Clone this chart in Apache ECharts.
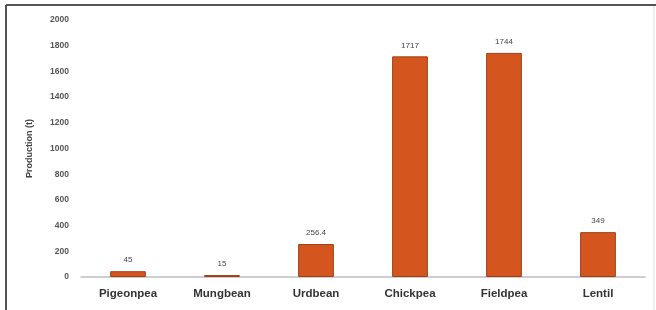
<!DOCTYPE html>
<html>
<head>
<meta charset="utf-8">
<script src="https://cdn.jsdelivr.net/npm/echarts@6/dist/echarts.min.js"></script>
<style>
  html, body { margin: 0; padding: 0; background: #fff; }
  #container { width: 656px; height: 310px; }
</style>
</head>
<body>
<div id="container"></div>
<script>
var dom = document.getElementById('container');
var myChart = echarts.init(dom, null, { renderer: 'canvas' });

// crops and production
const crops = ['Pigeonpea', 'Mungbean', 'Urdbean', 'Chickpea', 'Fieldpea', 'Lentil'];
const production = [45, 15, 256.4, 1717, 1744, 349];
const yTicks = [0, 200, 400, 600, 800, 1000, 1200, 1400, 1600, 1800, 2000];

const barColor = '#d4561e';
const barBorder = '#9e3f16';

var option = {
  animation: false,
  backgroundColor: '#fff',
  graphic: [
    // frame around the picture
    { type: 'line', shape: { x1: 6, y1: 5, x2: 656, y2: 5 }, style: { stroke: '#555', lineWidth: 2 } },
    { type: 'line', shape: { x1: 6, y1: 5, x2: 6, y2: 310 }, style: { stroke: '#555', lineWidth: 2 } },
    { type: 'line', shape: { x1: 654, y1: 6, x2: 654, y2: 310 }, style: { stroke: '#ddd', lineWidth: 1 } }
  ],
  grid: { left: 81, right: 11, top: 20, bottom: 33 },
  xAxis: {
    type: 'category',
    data: crops,
    axisLine: { lineStyle: { color: '#bfbfbf', width: 1.5 } },
    axisTick: { show: false },
    axisLabel: { color: '#333', fontSize: 11.5, fontWeight: 'bold', fontFamily: 'Liberation Sans', margin: 11 }
  },
  yAxis: {
    type: 'value',
    min: 0,
    max: 2000,
    interval: 200,
    name: 'Production (t)',
    nameLocation: 'middle',
    nameGap: 47,
    nameTextStyle: { color: '#444', fontSize: 9, fontWeight: 'bold', fontFamily: 'Liberation Sans' },
    axisLine: { show: false },
    axisTick: { show: false },
    splitLine: { show: false },
    axisLabel: {
      color: '#555', fontSize: 8.5, fontWeight: 'bold', fontFamily: 'Liberation Sans', margin: 12,
      formatter: function (v) { return yTicks.indexOf(v) >= 0 ? String(v) : ''; }
    }
  },
  series: [{
    type: 'bar',
    data: production,
    barWidth: '38%',
    itemStyle: { color: barColor, borderColor: barBorder, borderWidth: 1 },
    label: {
      show: true,
      position: 'top',
      distance: 7,
      color: '#444',
      fontSize: 8,
      fontFamily: 'Liberation Sans'
    }
  }]
};

myChart.setOption(option);
window.addEventListener('resize', myChart.resize);
</script>
</body>
</html>
